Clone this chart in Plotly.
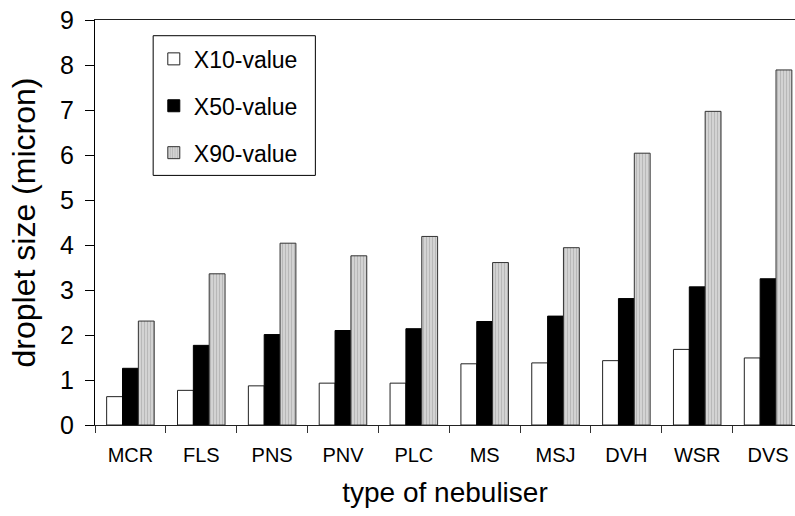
import plotly.graph_objects as go

categories = ["MCR", "FLS", "PNS", "PNV", "PLC", "MS", "MSJ", "DVH", "WSR", "DVS"]
x10_values = [0.63, 0.77, 0.87, 0.93, 0.93, 1.36, 1.38, 1.43, 1.68, 1.49]
x50_values = [1.26, 1.77, 2.01, 2.10, 2.14, 2.30, 2.42, 2.81, 3.07, 3.25]
x90_values = [2.31, 3.36, 4.04, 3.76, 4.19, 3.61, 3.94, 6.04, 6.97, 7.89]
y_ticks = [0, 1, 2, 3, 4, 5, 6, 7, 8, 9]

FONT = "Liberation Sans, Arial, sans-serif"

fig = go.Figure()
fig.add_trace(go.Bar(
    x=categories, y=x10_values, name="X10-value", legendgroup="a",
    marker=dict(color="white", line=dict(color="#222222", width=1)),
))
fig.add_trace(go.Bar(
    x=categories, y=x50_values, name="X50-value", legendgroup="b",
    marker=dict(color="black", line=dict(color="black", width=1)),
))
fig.add_trace(go.Bar(
    x=categories, y=x90_values, name="X90-value", legendgroup="c",
    marker=dict(color="#d6d6d6", line=dict(color="#333333", width=1),
                pattern=dict(shape="|", fgcolor="#999999", size=3, solidity=0.4)),
))

# legend frame
fig.add_shape(type="rect", xref="paper", yref="paper",
              x0=0.0831, x1=0.3148, y0=0.6163, y1=0.9612,
              line=dict(color="black", width=1), fillcolor="white", layer="below")

fig.update_layout(
    width=795, height=516,
    margin=dict(l=94.5, r=0, t=20.3, b=90.7, autoexpand=False),
    paper_bgcolor="white", plot_bgcolor="white",
    barmode="group", bargap=0.329, bargroupgap=0,
    font=dict(family=FONT, color="black"),
    showlegend=True,
    legend=dict(
        x=0.084, y=0.957, xanchor="left", yanchor="top",
        borderwidth=0, bgcolor="rgba(0,0,0,0)",
        font=dict(size=23, family=FONT), tracegroupgap=14,
        traceorder="grouped",
    ),
    xaxis=dict(
        type="category", range=[-0.5, 9.38], automargin=False,
        showline=True, linecolor="#222222", linewidth=1, mirror=True,
        ticks="outside", tickson="boundaries", ticklen=7, tickcolor="#333333",
        tickfont=dict(size=20, family=FONT), ticklabelstandoff=12,
        ticklabeloverflow="allow",
        title=dict(text="type of nebuliser", font=dict(size=28, family=FONT), standoff=17),
        showgrid=False, zeroline=False,
    ),
    yaxis=dict(
        range=[0, 9], tickvals=y_ticks, automargin=False,
        showline=True, linecolor="black", linewidth=1,
        ticks="outside", ticklen=9, tickcolor="black",
        tickfont=dict(size=25, family=FONT), ticklabelstandoff=6,
        ticklabeloverflow="allow",
        title=dict(text="droplet size (micron)", font=dict(size=32, family=FONT), standoff=14),
        showgrid=False, zeroline=False,
    ),
)

fig.write_html("out.html", config={"displayModeBar": False},
               post_script="document.body.style.margin='0';")
